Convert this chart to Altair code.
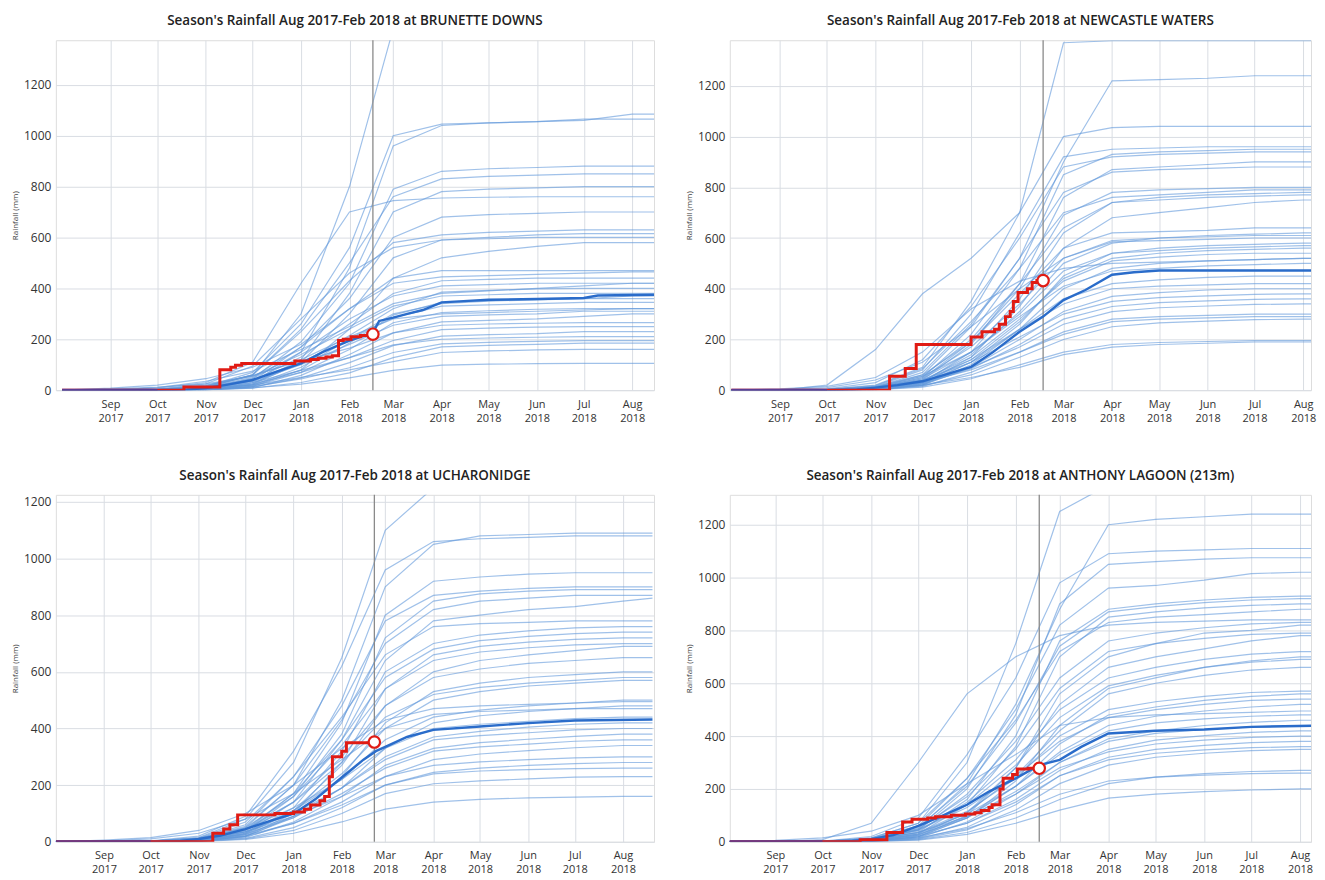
import altair as alt
import pandas as pd

# ---------------- shared axis data ----------------
MONTH_POINTS = ["2017-08-01", "2017-09-01", "2017-10-01", "2017-11-01", "2017-12-01",
                "2018-01-01", "2018-02-01", "2018-03-01", "2018-04-01", "2018-05-01",
                "2018-06-01", "2018-07-01", "2018-08-01", "2018-08-20"]
TICK_MONTHS = [(2017, 9), (2017, 10), (2017, 11), (2017, 12), (2018, 1), (2018, 2),
               (2018, 3), (2018, 4), (2018, 5), (2018, 6), (2018, 7), (2018, 8)]
Y_TICKS = [0, 200, 400, 600, 800, 1000, 1200]

# ---------------- BRUNETTE DOWNS ----------------
bd_title = "Season's Rainfall Aug 2017-Feb 2018 at BRUNETTE DOWNS"
bd_hist = [
    [0, 0, 2, 10, 60, 300, 800, 1420, 1450, 1450, 1450, 1450, 1450, 1450],
    [0, 0, 0, 4, 30, 150, 480, 960, 1040, 1050, 1055, 1060, 1085, 1085],
    [0, 0, 3, 15, 70, 260, 560, 1000, 1045, 1050, 1055, 1065, 1065, 1065],
    [0, 0, 0, 8, 45, 190, 420, 790, 860, 870, 875, 880, 880, 880],
    [0, 0, 2, 12, 60, 240, 500, 760, 830, 840, 845, 850, 850, 850],
    [0, 0, 0, 5, 25, 120, 380, 700, 780, 790, 795, 800, 800, 800],
    [0, 3, 8, 30, 110, 420, 700, 745, 755, 758, 760, 760, 760, 760],
    [0, 0, 0, 6, 35, 170, 360, 600, 680, 690, 695, 700, 700, 700],
    [0, 0, 2, 14, 60, 230, 430, 580, 610, 620, 625, 630, 630, 630],
    [0, 0, 0, 4, 22, 110, 300, 520, 590, 600, 610, 615, 615, 615],
    [0, 0, 4, 25, 95, 280, 460, 560, 590, 595, 600, 600, 600, 600],
    [0, 0, 0, 2, 15, 80, 240, 440, 520, 545, 565, 580, 580, 580],
    [0, 0, 1, 12, 50, 170, 320, 440, 470, 470, 470, 470, 470, 470],
    [0, 0, 0, 6, 38, 130, 260, 380, 430, 435, 440, 440, 440, 440],
    [0, 0, 1, 10, 45, 150, 280, 370, 410, 415, 420, 420, 420, 420],
    [0, 0, 0, 4, 28, 105, 215, 320, 385, 392, 398, 400, 400, 400],
    [0, 0, 3, 18, 55, 140, 240, 330, 370, 375, 380, 380, 380, 380],
    [0, 0, 0, 5, 20, 78, 185, 295, 345, 352, 358, 360, 360, 360],
    [0, 0, 2, 12, 40, 110, 200, 285, 330, 335, 340, 345, 345, 345],
    [0, 0, 0, 3, 15, 70, 160, 265, 305, 312, 318, 320, 320, 320],
    [0, 0, 1, 8, 35, 100, 180, 255, 290, 296, 300, 310, 310, 310],
    [0, 0, 0, 2, 10, 58, 140, 225, 268, 274, 280, 290, 300, 300],
    [0, 0, 3, 20, 58, 115, 165, 225, 255, 260, 263, 265, 265, 265],
    [0, 0, 0, 5, 24, 70, 128, 195, 238, 244, 248, 250, 250, 250],
    [0, 0, 0, 2, 12, 48, 108, 175, 212, 218, 222, 230, 230, 230],
    [0, 0, 2, 10, 30, 78, 128, 178, 200, 205, 208, 210, 210, 210],
    [0, 0, 0, 3, 14, 44, 88, 148, 182, 188, 192, 195, 195, 195],
    [0, 0, 0, 1, 8, 30, 68, 128, 170, 176, 180, 185, 185, 185],
    [0, 0, 1, 5, 20, 50, 80, 112, 148, 154, 158, 160, 160, 160],
    [0, 0, 0, 2, 9, 24, 48, 78, 98, 102, 104, 105, 105, 105],
    [0, 8, 20, 45, 90, 180, 320, 420, 445, 450, 455, 460, 465, 465],
    [0, 0, 10, 35, 75, 160, 250, 340, 380, 390, 400, 410, 420, 420],
    [0, 0, 0, 0, 20, 90, 200, 300, 340, 350, 355, 360, 370, 370],
    [0, 5, 12, 25, 55, 120, 210, 280, 300, 305, 310, 315, 320, 320],
]
bd_median_dates = ["2017-08-01", "2017-10-01", "2017-10-20", "2017-11-01", "2017-11-15",
                   "2017-12-01", "2017-12-15", "2018-01-01", "2018-01-15", "2018-02-01",
                   "2018-02-16", "2018-02-20", "2018-03-01", "2018-03-10", "2018-03-20",
                   "2018-04-01", "2018-04-15", "2018-05-01", "2018-06-01", "2018-07-01",
                   "2018-07-10", "2018-08-20"]
bd_median_vals = [0, 0, 2, 8, 22, 40, 70, 105, 150, 195, 225, 272, 285, 300, 315,
                  345, 350, 355, 358, 362, 372, 375]
bd_red_dates = ["2017-08-01", "2017-10-18", "2017-11-10", "2017-11-17", "2017-11-20",
                "2017-11-24", "2017-12-28", "2018-01-07", "2018-01-12", "2018-01-17",
                "2018-01-21", "2018-01-25", "2018-01-28", "2018-02-02", "2018-02-08",
                "2018-02-13", "2018-02-16"]
bd_red_vals = [0, 12, 80, 90, 98, 105, 115, 120, 125, 130, 135, 195, 200, 210, 215, 220, 220]

# ---------------- NEWCASTLE WATERS ----------------
nw_title = "Season's Rainfall Aug 2017-Feb 2018 at NEWCASTLE WATERS"
nw_hist = [
    [0, 0, 3, 20, 90, 350, 700, 1370, 1378, 1378, 1378, 1378, 1378, 1378],
    [0, 0, 0, 10, 60, 250, 520, 900, 1220, 1225, 1230, 1240, 1240, 1240],
    [0, 0, 20, 160, 380, 520, 700, 1000, 1035, 1040, 1040, 1040, 1040, 1040],
    [0, 0, 2, 15, 80, 300, 620, 920, 950, 955, 960, 960, 960, 960],
    [0, 0, 0, 8, 50, 220, 480, 850, 930, 940, 945, 950, 950, 950],
    [0, 0, 5, 30, 120, 330, 600, 880, 920, 930, 935, 940, 940, 940],
    [0, 0, 0, 5, 40, 180, 420, 760, 870, 880, 890, 900, 900, 900],
    [0, 0, 2, 12, 70, 260, 520, 780, 860, 870, 875, 880, 880, 880],
    [0, 0, 0, 6, 45, 190, 400, 690, 780, 790, 795, 800, 800, 800],
    [0, 0, 3, 18, 85, 270, 480, 700, 760, 770, 780, 790, 790, 790],
    [0, 0, 0, 4, 30, 150, 360, 620, 740, 760, 770, 775, 780, 780],
    [0, 0, 1, 10, 55, 200, 420, 640, 740, 750, 760, 765, 770, 770],
    [0, 0, 0, 3, 25, 130, 330, 560, 680, 700, 720, 740, 750, 750],
    [0, 0, 2, 14, 60, 190, 380, 560, 620, 625, 630, 640, 640, 640],
    [0, 0, 0, 5, 35, 140, 310, 500, 580, 600, 610, 615, 620, 620],
    [0, 0, 1, 8, 50, 170, 340, 520, 585, 590, 595, 600, 600, 600],
    [0, 0, 0, 3, 22, 110, 260, 450, 540, 560, 570, 575, 580, 580],
    [0, 0, 2, 10, 45, 150, 300, 470, 540, 550, 560, 565, 570, 570],
    [0, 0, 0, 4, 30, 120, 270, 440, 520, 540, 550, 555, 560, 560],
    [0, 0, 1, 9, 40, 130, 280, 430, 510, 525, 535, 540, 540, 540],
    [0, 0, 0, 2, 20, 100, 240, 400, 480, 500, 510, 515, 520, 520],
    [0, 0, 2, 12, 55, 150, 290, 410, 470, 480, 490, 495, 500, 500],
    [0, 0, 0, 5, 28, 110, 240, 360, 420, 435, 445, 450, 450, 450],
    [0, 0, 1, 8, 38, 120, 240, 340, 400, 410, 415, 420, 420, 420],
    [0, 0, 0, 3, 20, 90, 200, 310, 370, 385, 395, 400, 400, 400],
    [0, 0, 2, 10, 40, 110, 210, 300, 350, 365, 372, 378, 380, 380],
    [0, 0, 0, 4, 25, 85, 180, 280, 330, 345, 352, 358, 360, 360],
    [0, 0, 1, 6, 30, 90, 170, 260, 310, 325, 332, 338, 340, 340],
    [0, 0, 0, 2, 15, 70, 150, 230, 280, 290, 295, 300, 300, 300],
    [0, 0, 1, 8, 30, 80, 150, 220, 270, 280, 285, 290, 290, 290],
    [0, 0, 0, 3, 18, 60, 130, 200, 250, 265, 272, 278, 280, 280],
    [0, 0, 0, 2, 12, 45, 100, 150, 180, 188, 192, 195, 195, 195],
    [0, 0, 1, 6, 20, 50, 90, 140, 170, 180, 185, 190, 190, 190],
    [0, 2, 10, 40, 110, 250, 400, 520, 590, 600, 605, 610, 610, 610],
    [0, 5, 15, 50, 150, 320, 430, 480, 500, 505, 510, 515, 520, 520],
]
nw_median_dates = ["2017-08-01", "2017-10-01", "2017-10-20", "2017-11-01", "2017-11-15",
                   "2017-12-01", "2017-12-15", "2018-01-01", "2018-01-15", "2018-02-01",
                   "2018-02-16", "2018-03-01", "2018-03-15", "2018-04-01", "2018-04-15",
                   "2018-05-01", "2018-06-01", "2018-08-20"]
nw_median_vals = [0, 0, 3, 10, 20, 35, 60, 92, 150, 230, 290, 355, 395, 455, 465,
                  472, 472, 472]
nw_red_dates = ["2017-08-01", "2017-11-10", "2017-11-20", "2017-11-27", "2018-01-01",
                "2018-01-08", "2018-01-16", "2018-01-19", "2018-01-23", "2018-01-26",
                "2018-01-28", "2018-01-31", "2018-02-06", "2018-02-09", "2018-02-12",
                "2018-02-16"]
nw_red_vals = [0, 55, 85, 180, 210, 230, 240, 260, 290, 310, 350, 385, 400, 425, 432, 432]

# ---------------- UCHARONIDGE ----------------
uc_title = "Season's Rainfall Aug 2017-Feb 2018 at UCHARONIDGE"
uc_hist = [
    [0, 0, 2, 15, 80, 280, 650, 1100, 1250, 1260, 1260, 1260, 1260, 1260],
    [0, 0, 0, 8, 50, 200, 500, 900, 1050, 1080, 1085, 1090, 1090, 1090],
    [0, 0, 3, 20, 90, 320, 620, 960, 1060, 1070, 1075, 1080, 1080, 1080],
    [0, 0, 0, 5, 40, 170, 420, 800, 920, 935, 945, 950, 950, 950],
    [0, 0, 2, 12, 60, 230, 480, 780, 870, 885, 895, 900, 900, 900],
    [0, 0, 0, 6, 35, 160, 380, 720, 850, 875, 885, 890, 890, 890],
    [0, 0, 1, 10, 55, 200, 430, 700, 820, 850, 860, 870, 870, 870],
    [0, 0, 0, 4, 30, 140, 360, 640, 780, 800, 820, 830, 850, 860],
    [0, 0, 2, 14, 70, 230, 440, 660, 760, 770, 775, 780, 780, 780],
    [0, 0, 0, 5, 28, 120, 320, 600, 700, 730, 745, 755, 760, 760],
    [0, 0, 1, 8, 45, 170, 360, 580, 680, 710, 725, 735, 740, 740],
    [0, 0, 0, 3, 20, 100, 280, 540, 660, 690, 705, 715, 720, 720],
    [0, 0, 2, 12, 50, 160, 340, 540, 640, 670, 685, 695, 700, 700],
    [0, 0, 0, 4, 25, 110, 270, 480, 600, 640, 660, 675, 690, 690],
    [0, 0, 1, 9, 40, 140, 300, 480, 580, 610, 630, 640, 650, 650],
    [0, 0, 0, 2, 18, 90, 230, 420, 530, 560, 580, 590, 600, 600],
    [0, 0, 2, 10, 45, 140, 280, 440, 520, 545, 560, 570, 580, 580],
    [0, 0, 0, 5, 30, 110, 240, 400, 500, 530, 550, 560, 570, 570],
    [0, 0, 1, 7, 35, 110, 220, 360, 440, 465, 480, 490, 500, 500],
    [0, 0, 0, 3, 20, 85, 190, 330, 420, 445, 460, 470, 480, 480],
    [0, 0, 2, 12, 45, 120, 220, 330, 400, 415, 425, 435, 440, 440],
    [0, 0, 0, 4, 25, 90, 190, 300, 370, 390, 405, 415, 420, 420],
    [0, 0, 1, 8, 35, 100, 190, 290, 360, 375, 385, 395, 400, 400],
    [0, 0, 0, 2, 15, 70, 160, 270, 330, 350, 362, 372, 380, 380],
    [0, 0, 1, 6, 28, 85, 170, 260, 320, 335, 345, 355, 360, 360],
    [0, 0, 0, 3, 18, 65, 140, 230, 290, 310, 322, 332, 340, 340],
    [0, 0, 2, 10, 35, 90, 160, 230, 270, 282, 290, 296, 300, 300],
    [0, 0, 0, 2, 12, 50, 120, 200, 245, 260, 270, 276, 280, 280],
    [0, 0, 1, 5, 22, 65, 130, 200, 240, 250, 255, 258, 260, 260],
    [0, 0, 0, 2, 10, 40, 100, 170, 205, 215, 222, 228, 230, 230],
    [0, 0, 0, 1, 8, 30, 70, 115, 140, 150, 155, 158, 160, 160],
    [0, 6, 15, 40, 100, 200, 330, 430, 470, 480, 485, 490, 495, 495],
    [0, 3, 10, 30, 80, 170, 290, 400, 450, 460, 465, 470, 470, 470],
]
uc_median_dates = ["2017-08-01", "2017-10-01", "2017-10-20", "2017-11-01", "2017-11-15",
                   "2017-12-01", "2017-12-15", "2018-01-01", "2018-01-15", "2018-02-01",
                   "2018-02-15", "2018-02-23", "2018-03-01", "2018-03-15", "2018-04-01",
                   "2018-05-01", "2018-06-01", "2018-07-01", "2018-08-20"]
uc_median_vals = [0, 0, 3, 10, 22, 45, 70, 99, 150, 227, 290, 320, 335, 370, 395,
                  407, 419, 428, 432]
uc_red_dates = ["2017-08-01", "2017-11-10", "2017-11-17", "2017-11-21", "2017-11-26",
                "2017-12-20", "2018-01-01", "2018-01-08", "2018-01-12", "2018-01-18",
                "2018-01-21", "2018-01-24", "2018-01-26", "2018-02-01", "2018-02-04",
                "2018-02-22"]
uc_red_vals = [0, 30, 45, 60, 95, 100, 105, 115, 130, 145, 160, 230, 300, 320, 350, 352]

# ---------------- ANTHONY LAGOON ----------------
al_title = "Season's Rainfall Aug 2017-Feb 2018 at ANTHONY LAGOON (213m)"
al_hist = [
    [0, 0, 2, 15, 70, 300, 750, 1250, 1350, 1360, 1360, 1360, 1360, 1360],
    [0, 0, 0, 8, 50, 220, 520, 880, 1200, 1220, 1230, 1240, 1240, 1240],
    [0, 0, 3, 20, 90, 330, 620, 980, 1090, 1100, 1105, 1110, 1110, 1110],
    [0, 0, 0, 5, 45, 200, 480, 900, 1050, 1060, 1070, 1075, 1075, 1075],
    [0, 0, 2, 12, 60, 240, 500, 820, 960, 970, 990, 1015, 1020, 1020],
    [0, 0, 0, 6, 35, 160, 400, 760, 880, 900, 915, 925, 930, 930],
    [0, 0, 1, 10, 55, 210, 450, 740, 870, 890, 905, 915, 920, 920],
    [0, 0, 0, 4, 30, 140, 360, 700, 850, 870, 885, 895, 900, 900],
    [0, 0, 2, 14, 70, 240, 460, 720, 830, 850, 860, 870, 880, 880],
    [0, 0, 8, 70, 300, 560, 700, 780, 820, 830, 835, 840, 840, 840],
    [0, 0, 1, 8, 45, 180, 380, 620, 760, 790, 810, 825, 830, 830],
    [0, 0, 0, 3, 20, 100, 280, 560, 700, 750, 790, 800, 820, 820],
    [0, 0, 2, 12, 50, 170, 350, 580, 720, 750, 770, 785, 790, 790],
    [0, 0, 0, 4, 25, 110, 280, 520, 660, 700, 730, 760, 780, 780],
    [0, 0, 1, 9, 40, 150, 310, 500, 620, 660, 690, 710, 720, 720],
    [0, 0, 0, 2, 18, 90, 230, 440, 580, 620, 660, 685, 700, 700],
    [0, 0, 2, 10, 45, 140, 290, 470, 590, 630, 660, 680, 690, 690],
    [0, 0, 0, 5, 30, 110, 250, 420, 560, 600, 630, 650, 660, 660],
    [0, 0, 1, 7, 35, 115, 240, 400, 500, 530, 550, 565, 570, 570],
    [0, 0, 0, 3, 20, 90, 210, 370, 480, 510, 535, 550, 560, 560],
    [0, 0, 2, 12, 45, 130, 250, 380, 470, 500, 520, 535, 540, 540],
    [0, 0, 0, 4, 25, 95, 210, 340, 440, 475, 495, 510, 520, 520],
    [0, 0, 1, 8, 35, 105, 210, 330, 420, 450, 465, 475, 480, 480],
    [0, 0, 0, 2, 15, 75, 180, 300, 390, 420, 440, 452, 460, 460],
    [0, 0, 1, 6, 28, 90, 190, 300, 380, 410, 425, 435, 440, 440],
    [0, 0, 0, 3, 18, 70, 160, 270, 350, 385, 402, 414, 420, 420],
    [0, 0, 2, 10, 35, 95, 180, 280, 340, 370, 385, 395, 400, 400],
    [0, 0, 0, 2, 12, 55, 140, 250, 320, 350, 365, 375, 380, 380],
    [0, 0, 1, 5, 22, 70, 150, 250, 310, 335, 348, 356, 360, 360],
    [0, 0, 0, 2, 10, 45, 120, 220, 290, 320, 335, 345, 350, 350],
    [0, 0, 0, 1, 8, 35, 90, 160, 220, 245, 258, 266, 270, 270],
    [0, 0, 1, 4, 15, 50, 110, 180, 230, 245, 252, 258, 260, 260],
    [0, 0, 0, 1, 6, 28, 70, 120, 165, 180, 190, 196, 200, 200],
    [0, 5, 15, 40, 100, 220, 330, 440, 470, 480, 485, 490, 495, 495],
]
al_median_dates = ["2017-08-01", "2017-10-01", "2017-10-20", "2017-11-01", "2017-11-15",
                   "2017-12-01", "2017-12-15", "2018-01-01", "2018-01-15", "2018-02-01",
                   "2018-02-16", "2018-03-01", "2018-03-15", "2018-04-01", "2018-05-01",
                   "2018-06-01", "2018-07-01", "2018-08-20"]
al_median_vals = [0, 0, 3, 10, 25, 60, 95, 140, 190, 240, 290, 310, 360, 410, 420,
                  425, 435, 440]
al_red_dates = ["2017-08-01", "2017-10-25", "2017-11-11", "2017-11-21", "2017-11-27",
                "2017-12-07", "2017-12-12", "2017-12-22", "2017-12-31", "2018-01-06",
                "2018-01-10", "2018-01-15", "2018-01-17", "2018-01-22", "2018-01-24",
                "2018-01-30", "2018-02-02", "2018-02-09", "2018-02-16"]
al_red_vals = [0, 8, 35, 75, 85, 90, 95, 100, 105, 110, 118, 130, 140, 200, 240,
               255, 275, 278, 278]

# ---------------- styling ----------------
HIST_COLOR = "#6198da"
MEDIAN_COLOR = "#2a6cca"
RED = "#e01b14"
OVERLAP = "#5b3d93"
FONT = "Open Sans"


def tick_values():
    return [alt.DateTime(year=y, month=m, date=1) for (y, m) in TICK_MONTHS]


def panel(title, hist, med_d, med_v, red_d, red_v, x_start, x_end, ymax, today, width, height):
    rows = []
    for i, series in enumerate(hist):
        for d, v in zip(MONTH_POINTS, series):
            rows.append({"date": d, "value": v, "series": f"s{i}"})
    hist_df = pd.DataFrame(rows)
    med_df = pd.DataFrame({"date": med_d, "value": med_v})
    red_df = pd.DataFrame({"date": red_d, "value": red_v})
    zero_df = med_df[med_df["value"] == 0]
    last_df = red_df.tail(1)
    today_df = pd.DataFrame({"date": [today]})

    xs = alt.Scale(domain=[x_start, x_end], nice=False)
    ys = alt.Scale(domain=[0, ymax], nice=False, zero=True)
    x_axis = alt.Axis(
        values=tick_values(), title=None, grid=True, gridColor="#d9dde3", gridWidth=1,
        ticks=False, domain=False, labelFont=FONT, labelFontSize=11, labelColor="#333",
        labelPadding=8, labelLineHeight=14,
        labelExpr="[timeFormat(datum.value, '%b'), timeFormat(datum.value, '%Y')]",
    )
    y_axis = alt.Axis(
        values=Y_TICKS, format="d", title="Rainfall (mm)", titleFontSize=8, titleFont=FONT,
        titleFontWeight="normal", titleColor="#444", titlePadding=4,
        grid=True, gridColor="#d9dde3", ticks=False, domain=False,
        labelFont=FONT, labelFontSize=12, labelColor="#333", labelPadding=5,
        minExtent=32, maxExtent=32,
    )
    x_enc = alt.X("date:T", scale=xs, axis=x_axis)
    y_enc = alt.Y("value:Q", scale=ys, axis=y_axis)

    hist_layer = alt.Chart(hist_df).mark_line(
        clip=True, strokeWidth=1.2, color=HIST_COLOR, opacity=0.6
    ).encode(x=x_enc, y=y_enc, detail="series:N")
    today_layer = alt.Chart(today_df).mark_rule(color="#8a8a8a", strokeWidth=1.3).encode(
        x=alt.X("date:T", scale=xs))
    med_layer = alt.Chart(med_df).mark_line(
        clip=True, strokeWidth=2.4, color=MEDIAN_COLOR
    ).encode(x=alt.X("date:T", scale=xs), y=alt.Y("value:Q", scale=ys))
    red_layer = alt.Chart(red_df).mark_line(
        clip=True, strokeWidth=3, color=RED, interpolate="step-after"
    ).encode(x=alt.X("date:T", scale=xs), y=alt.Y("value:Q", scale=ys))
    zero_layer = alt.Chart(zero_df).mark_line(
        clip=True, strokeWidth=3, color=OVERLAP
    ).encode(x=alt.X("date:T", scale=xs), y=alt.Y("value:Q", scale=ys))
    dot_layer = alt.Chart(last_df).mark_point(
        filled=True, fill="white", stroke=RED, strokeWidth=2.2, size=130, opacity=1
    ).encode(x=alt.X("date:T", scale=xs), y=alt.Y("value:Q", scale=ys))

    return alt.layer(hist_layer, today_layer, med_layer, red_layer, zero_layer,
                     dot_layer).properties(
        width=width, height=height,
        title=alt.TitleParams(title, font=FONT, fontSize=13.5, fontWeight=600,
                              color="#222", anchor="middle", offset=12),
    )


tl = panel(bd_title, bd_hist, bd_median_dates, bd_median_vals, bd_red_dates, bd_red_vals,
           "2017-07-28", "2018-08-15", 1375, "2018-02-16", 600, 351)
tr = panel(nw_title, nw_hist, nw_median_dates, nw_median_vals, nw_red_dates, nw_red_vals,
           "2017-07-31", "2018-08-06", 1380, "2018-02-16", 583, 351)
bl = panel(uc_title, uc_hist, uc_median_dates, uc_median_vals, uc_red_dates, uc_red_vals,
           "2017-08-01", "2018-08-21", 1225, "2018-02-22", 600, 348)
br = panel(al_title, al_hist, al_median_dates, al_median_vals, al_red_dates, al_red_vals,
           "2017-08-03", "2018-08-08", 1313, "2018-02-16", 583, 348)

chart = alt.vconcat(
    alt.hconcat(tl, tr, spacing=30),
    alt.hconcat(bl, br, spacing=30),
    spacing=44,
).properties(padding={"left": 3, "top": 4, "right": 0, "bottom": 0}).configure_view(
    stroke="#555", strokeWidth=2
).configure(background="white")

chart.save("out.html", embed_options={"renderer": "svg", "actions": False})
